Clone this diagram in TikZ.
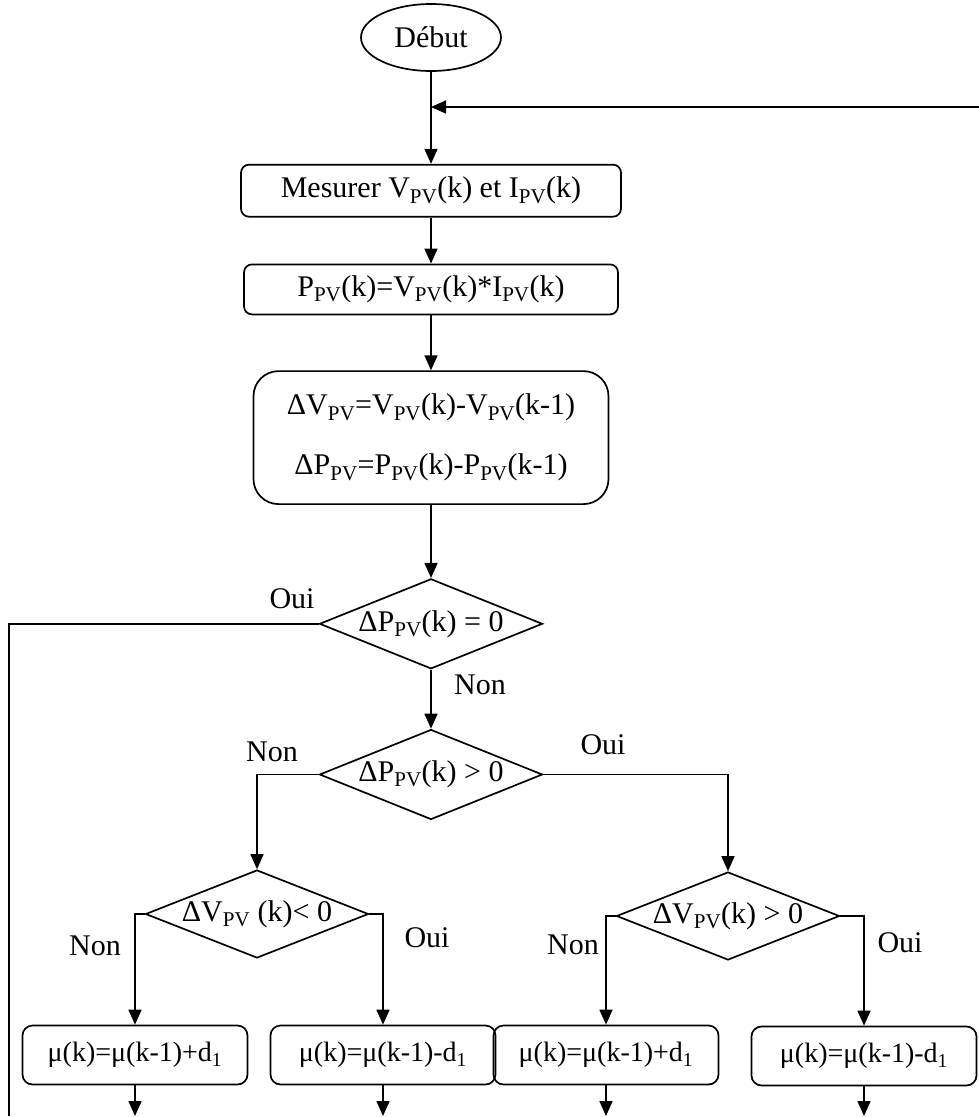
\documentclass[tikz,border=0pt]{standalone}
\usepackage{fontspec}
\setmainfont{Liberation Serif}
\usetikzlibrary{arrows.meta,positioning,calc,shapes.geometric}
\newcommand{\PV}{\textsubscript{PV}}
\tikzset{
  blk/.style={draw,rectangle,rounded corners=8pt,line width=1.7pt,align=center,inner sep=0pt},
  bigblk/.style={blk,rounded corners=25pt},
  mublk/.style={blk,minimum width=225pt,minimum height=59pt,rounded corners=10pt,font=\fontsize{28}{32}\selectfont},
  decblk/.style={draw,diamond,aspect=2.5,line width=1.7pt,inner sep=0pt,minimum width=223pt,minimum height=90pt},
  startblk/.style={draw,ellipse,line width=1.7pt,inner sep=0pt,minimum width=140pt,minimum height=67pt},
  arr/.style={-{Triangle[length=15pt,width=13pt]},line width=1.7pt},
  ln/.style={line width=1.7pt},
  lbl/.style={inner sep=0pt}
}
\begin{document}
\begin{tikzpicture}[x=1pt,y=1pt,font=\fontsize{30}{36}\selectfont]
  \useasboundingbox (0,0) rectangle (979,-1117);
  % main column
  \node[startblk] (start) at (431,-37.5) {Début};
  \node[blk, below=92pt of start,minimum width=380pt,minimum height=52pt] (mes) {Mesurer V\PV(k) et I\PV(k)};
  \node[blk, below=46pt of mes,minimum width=374pt,minimum height=50pt] (pow) {P\PV(k)=V\PV(k)*I\PV(k)};
  \node[bigblk, below=55pt of pow,minimum width=355pt,minimum height=133pt] (delta) {ΔV\PV=V\PV(k)-V\PV(k-1)\\[24pt]ΔP\PV=P\PV(k)-P\PV(k-1)};
  \node[decblk, below=73pt of delta] (dia1) {ΔP\PV(k) = 0};
  \node[decblk, below=59pt of dia1] (dia2) {ΔP\PV(k) > 0};
  % branches
  \node[decblk,minimum height=88pt] (dia3) at (257,-914) {ΔV\PV\ (k)< 0};
  \node[decblk,minimum height=88pt] (dia4) at (728,-916) {ΔV\PV(k) > 0};
  \node[mublk] (mu1) at (135,-1055) {μ(k)=μ(k-1)+d\textsubscript{1}};
  \node[mublk] (mu2) at (383,-1055) {μ(k)=μ(k-1)-d\textsubscript{1}};
  \node[mublk] (mu3) at (606,-1055) {μ(k)=μ(k-1)+d\textsubscript{1}};
  \node[mublk] (mu4) at (864,-1056) {μ(k)=μ(k-1)-d\textsubscript{1}};
  % labels
  \node[lbl] (oui1) at (292,-599) {Oui};
  \node[lbl] (non1) at (480,-685) {Non};
  \node[lbl] (non2) at (272,-752) {Non};
  \node[lbl] (oui2) at (603,-745) {Oui};
  \node[lbl] (non3) at (95,-946) {Non};
  \node[lbl] (oui3) at (427,-938) {Oui};
  \node[lbl] (non4) at (573,-945) {Non};
  \node[lbl] (oui4) at (900,-943) {Oui};

  \coordinate (fbin) at (979,-107);
  \coordinate (fbout) at (9,-1116);
  \draw[arr] (start) -- (mes);
  \draw[arr] (fbin) -- (fbin -| start);
  \draw[arr] (mes) -- (pow);
  \draw[arr] (pow) -- (delta);
  \draw[arr] (delta) -- (dia1);
  \draw[ln] (dia1.west) -| (fbout);
  \draw[arr] (dia1) -- (dia2);
  \draw[arr] (dia2.west) -| (dia3.north);
  \draw[arr] (dia2.east) -| (dia4.north);
  \draw[arr] (dia3.west) -| (mu1.north);
  \draw[arr] (dia3.east) -| (mu2.north);
  \draw[arr] (dia4.west) -| (mu3.north);
  \draw[arr] (dia4.east) -| (mu4.north);
  \foreach \i in {1,...,4}
    \draw[arr] (mu\i) -- (mu\i |- fbout);
\end{tikzpicture}
\end{document}
